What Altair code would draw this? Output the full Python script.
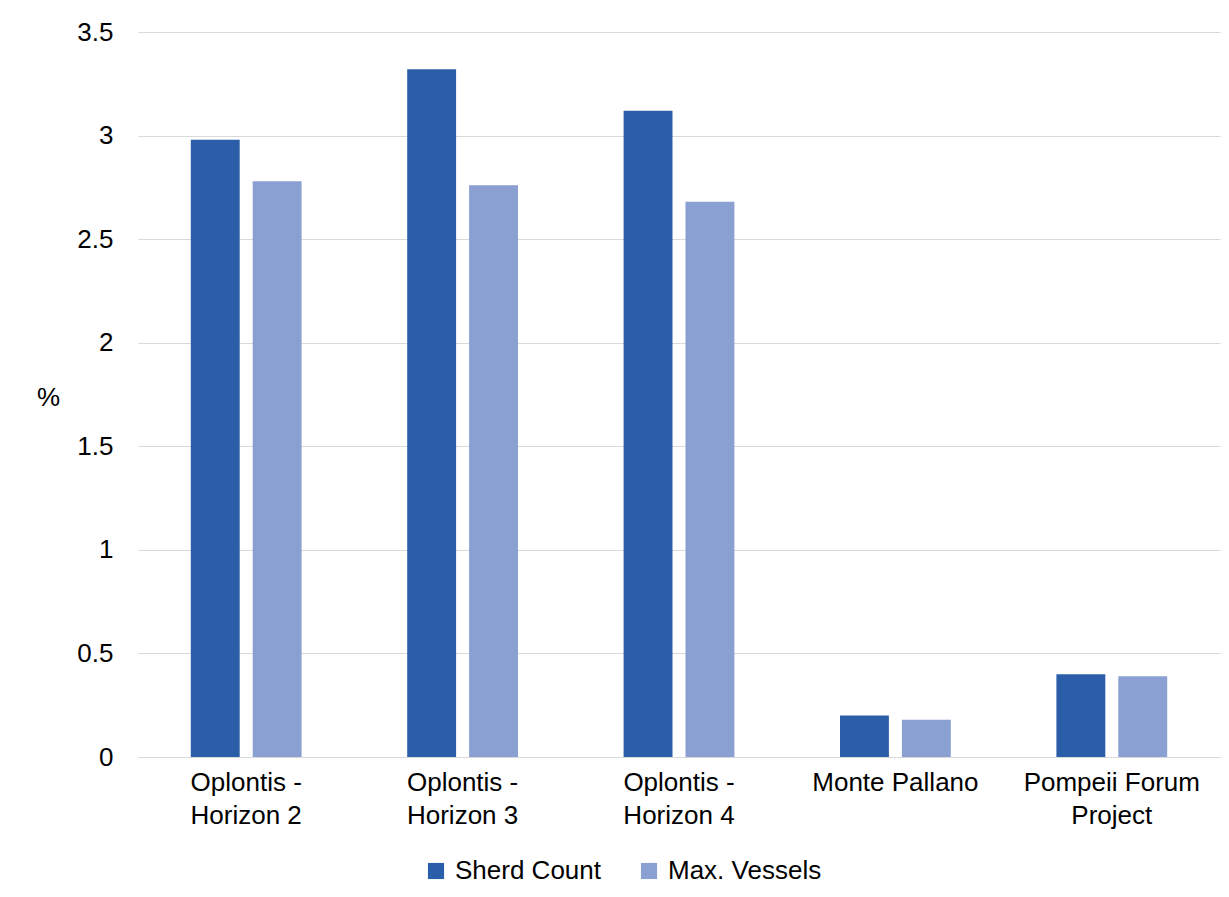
import altair as alt
import pandas as pd

categories = ["Oplontis -\nHorizon 2", "Oplontis -\nHorizon 3", "Oplontis -\nHorizon 4",
              "Monte Pallano", "Pompeii Forum\nProject"]
series = ["Sherd Count", "Max. Vessels"]
sherd_count = [2.98, 3.32, 3.12, 0.20, 0.40]
max_vessels = [2.78, 2.76, 2.68, 0.18, 0.39]
colors = ["#2B5EA9", "#8A9FD2"]

rows = []
for c, s, m in zip(categories, sherd_count, max_vessels):
    rows.append({"site": c, "series": series[0], "value": s})
    rows.append({"site": c, "series": series[1], "value": m})
df = pd.DataFrame(rows)

FONT = "Liberation Sans"
FS = 26

chart = alt.Chart(df).mark_bar().encode(
    x=alt.X("site:N", sort=categories,
            scale=alt.Scale(paddingInner=0.488, paddingOuter=0.244),
            axis=alt.Axis(title=None, labelAngle=0, labelExpr="split(datum.label, '\\n')",
                          labelFontSize=FS, labelColor="#000000", labelPadding=12,
                          labelLineHeight=33, ticks=False, domainColor="#d9d9d9",
                          grid=False, labelFont=FONT, labelBaseline="top")),
    xOffset=alt.XOffset("series:N", sort=series,
                        scale=alt.Scale(paddingInner=0.21, paddingOuter=0)),
    y=alt.Y("value:Q", scale=alt.Scale(domain=[0, 3.5], nice=False),
            axis=alt.Axis(title="%", titleAngle=0, titleX=-90, titleY=365,
                          titleAlign="center", titleBaseline="middle",
                          titleFontSize=FS, titleFontWeight="normal", titleColor="#000000",
                          titleFont=FONT,
                          values=[0, 0.5, 1, 1.5, 2, 2.5, 3, 3.5],
                          labelExpr="datum.value",
                          labelFontSize=FS, labelColor="#000000", labelPadding=25,
                          labelFont=FONT,
                          ticks=False, domain=False, gridColor="#d9d9d9")),
    color=alt.Color("series:N", sort=series,
                    scale=alt.Scale(domain=series, range=colors),
                    legend=alt.Legend(title=None, orient="none", direction="horizontal",
                                      legendX=285, legendY=826,
                                      symbolType="square", symbolSize=260,
                                      symbolStrokeWidth=0, symbolOpacity=1,
                                      labelFontSize=FS, labelColor="#000000",
                                      labelFont=FONT, columnPadding=35, labelOffset=6)),
).properties(
    width=1082, height=725,
    autosize=alt.AutoSizeParams(type="none"),
    padding={"left": 138, "top": 32, "right": 9, "bottom": 140},
    background="white",
).configure_view(stroke=None)

chart.save("out.html", embed_options={"renderer": "svg", "actions": False})
